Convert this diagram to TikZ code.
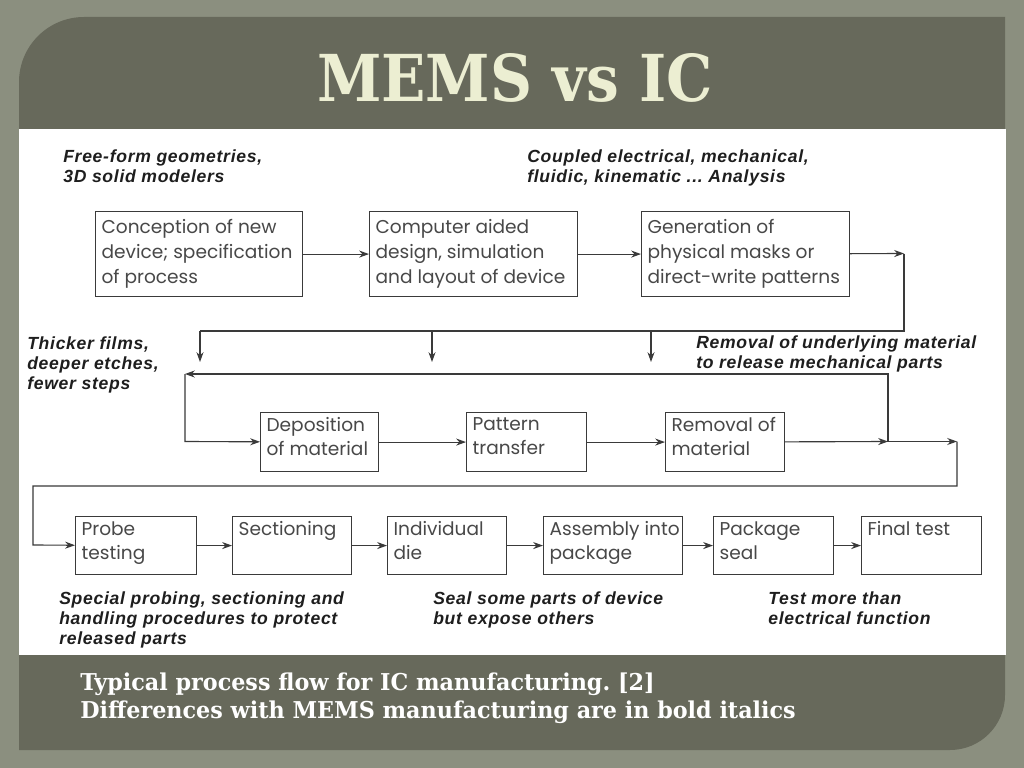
\documentclass[tikz,border=0pt]{standalone}
\usepackage{fontspec}
\usetikzlibrary{arrows.meta}
\newfontfamily\boxfont{Poppins}
\newfontfamily\notefont[LetterSpace=4]{Liberation Sans}
\newfontfamily\titlefont[FakeStretch=0.9]{DejaVu Serif}
\newfontfamily\capfont[FakeStretch=0.96]{DejaVu Serif}
\definecolor{outerbg}{HTML}{8B8F7F}
\definecolor{panel}{HTML}{67695B}
\definecolor{titlec}{HTML}{ECEED2}
\definecolor{linec}{HTML}{3A3A3A}
\definecolor{boxtext}{HTML}{484848}
\definecolor{notec}{HTML}{1E1E1E}
\newdimen\pxu \pxu=0.025cm
\newcommand\bxt[3]{\parbox[t][\dimexpr#2\pxu-7pt\relax][t]{\dimexpr#1\pxu-8.6pt\relax}{\raggedright #3}}
\newcommand\bxtt[3]{\parbox[t][\dimexpr#2\pxu-11pt\relax][t]{\dimexpr#1\pxu-8.6pt\relax}{\raggedright #3}}
\frenchspacing
\tikzset{
  box/.style={draw=linec, line width=0.8pt, inner xsep=4.3pt, inner ysep=3.5pt, anchor=north west,
    font=\boxfont\fontsize{13.2pt}{17pt}\selectfont, text=boxtext},
  tallbox/.style={box, inner ysep=5.5pt, font=\boxfont\fontsize{13.2pt}{17.8pt}\selectfont},
  ln/.style={draw=linec, line width=0.8pt},
  arr/.style={ln, -{Stealth[length=7pt,width=5pt]}},
  note/.style={inner sep=0pt, anchor=north west, align=left, text=notec,
    font=\notefont\bfseries\itshape\fontsize{12.5pt}{14.5pt}\selectfont},
}
\begin{document}
\begin{tikzpicture}[x=0.025cm,y=-0.025cm]
\useasboundingbox (0,0) rectangle (1024,768);
\fill[outerbg] (0,0) rectangle (1024,768);
% panel
\fill[panel] (19,750) -- (19,82) arc[start angle=180,end angle=270,radius=65] -- (1005,17)
  -- (1005,695) arc[start angle=0,end angle=90,radius=55] -- cycle;
\fill[white] (19,129) rectangle (1006,655);
% title
\node[font=\titlefont\bfseries\fontsize{46pt}{46pt}\selectfont, text=titlec] (title) at (515,78) {MEMS vs IC};
% caption
\node[anchor=base west, inner sep=0pt, text=white, font=\capfont\bfseries\fontsize{16.5pt}{20pt}\selectfont] (cap1) at (80,690) {Typical process flow for IC manufacturing.\ [2]};
\node[anchor=base west, inner sep=0pt, text=white, font=\capfont\bfseries\fontsize{16.5pt}{20pt}\selectfont] (cap2) at (80,718) {Differences with MEMS manufacturing are in bold italics};
% row 1
\node[tallbox] (A) at (95,211) {\bxtt{207}{85}{Conception of new\\device; specification\\of process}};
\node[tallbox] (B) at (369,211) {\bxtt{208}{85}{Computer aided\\design, simulation\\and layout of device}};
\node[tallbox] (C) at (641,211) {\bxtt{208}{85}{Generation of\\physical masks or\\direct-write patterns}};
% row 2
\node[box] (D) at (260,412) {\bxt{118}{59}{Deposition\\of material}};
\node[box] (P) at (466,412) {\bxt{120}{59}{Pattern\\transfer}};
\node[box] (R) at (665,412) {\bxt{119}{59}{Removal of\\material}};
% row 3
\node[box] (Pr) at (75,516) {\bxt{121}{58}{Probe\\testing}};
\node[box] (Se) at (232,516) {\bxt{119}{58}{Sectioning}};
\node[box] (In) at (387,516) {\bxt{119}{58}{Individual\\die}};
\node[box] (As) at (543,516) {\bxt{139}{58}{\mbox{Assembly into}\\package}};
\node[box] (Pk) at (713,516) {\bxt{120}{58}{Package\\seal}};
\node[box] (Fi) at (861,516) {\bxt{120}{58}{Final test}};
% notes
\node[note] (n1) at (63,149) {Free-form geometries,\\3D solid modelers};
\node[note] (n2) at (527,149) {Coupled electrical, mechanical,\\fluidic, kinematic ...\ Analysis};
\node[note] (n3) at (27,336) {Thicker films,\\deeper etches,\\fewer steps};
\node[note] (n4) at (696,335) {Removal of underlying material\\to release mechanical parts};
\node[note] (n5) at (59,591) {Special probing, sectioning and\\handling procedures to protect\\released parts};
\node[note] (n6) at (433,591) {Seal some parts of device\\but expose others};
\node[note] (n7) at (768,591) {Test more than\\electrical function};
% coordinates
\coordinate (c1) at (904,253.5);
\coordinate (c2) at (904,331);
\coordinate (c3) at (200,331);
\coordinate (d1) at (200,362);
\coordinate (u2) at (432,331);
\coordinate (d2) at (432,362);
\coordinate (u3) at (651,331);
\coordinate (d3) at (651,362);
\coordinate (r1) at (888,441.5);
\coordinate (r1t) at (888,374);
\coordinate (l1) at (185,374);
\coordinate (l2) at (185,441.5);
\coordinate (r2) at (957,441.5);
\coordinate (r2b) at (957,486);
\coordinate (l3) at (33,486);
\coordinate (l4) at (33,545);
% connectors
\draw[arr] (A) -- (B);
\draw[arr] (B) -- (C);
\draw[arr] (C) -- (c1);
\draw[ln] (c1) -- (c2) -- (c3);
\draw[arr] (c3) -- (d1);
\draw[arr] (u2) -- (d2);
\draw[arr] (u3) -- (d3);
\draw[arr] (r1) -- (r1t) -- (l1);
\draw[arr] (l1) -- (l2) -- (D);
\draw[arr] (D) -- (P);
\draw[arr] (P) -- (R);
\draw[arr] (R) -- (r1);
\draw[arr] (r1) -- (r2);
\draw[arr] (r2) -- (r2b) -- (l3) -- (l4) -- (Pr);
\draw[arr] (Pr) -- (Se);
\draw[arr] (Se) -- (In);
\draw[arr] (In) -- (As);
\draw[arr] (As) -- (Pk);
\draw[arr] (Pk) -- (Fi);
\end{tikzpicture}
\end{document}
